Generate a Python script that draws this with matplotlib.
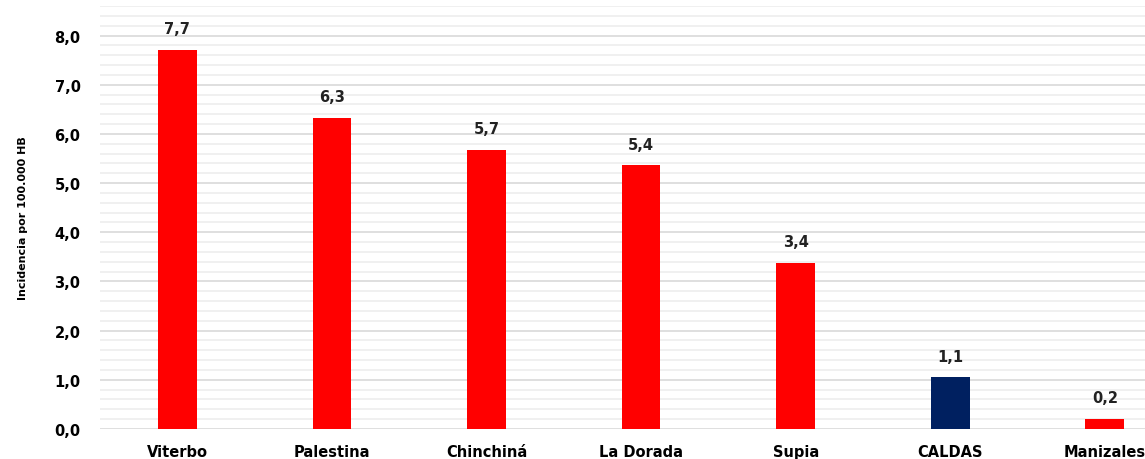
import matplotlib
matplotlib.use('agg')
import matplotlib.pyplot as plt
from matplotlib.ticker import MultipleLocator, FuncFormatter

# data
municipios = ['Viterbo', 'Palestina', 'Chinchiná', 'La Dorada', 'Supia', 'CALDAS', 'Manizales']
incidencia = [7.70, 6.33, 5.68, 5.36, 3.38, 1.05, 0.20]
etiquetas = ['7,7', '6,3', '5,7', '5,4', '3,4', '1,1', '0,2']
colores = ['#ff0000', '#ff0000', '#ff0000', '#ff0000', '#ff0000', '#002060', '#ff0000']

plt.rcParams['font.family'] = ['DejaVu Sans']

fig = plt.figure(figsize=(11.45, 4.6), dpi=100)
ax = fig.add_axes([100 / 1145, 30 / 460, 1 - 100 / 1145, (430 - 7) / 460])

x = list(range(len(municipios)))
ax.bar(x, incidencia, width=0.25, color=colores, zorder=3)
for xi, v, lab in zip(x, incidencia, etiquetas):
    ax.text(xi, v + 0.28, lab, ha='center', va='bottom', fontsize=10.5, fontweight='bold', color='#222222')

ax.set_xlim(-0.5, 6.26)
ax.set_ylim(0, 8.6)
ax.yaxis.set_major_locator(MultipleLocator(1))
ax.yaxis.set_minor_locator(MultipleLocator(0.2))
ax.yaxis.set_major_formatter(FuncFormatter(lambda v, p: f'{v:.1f}'.replace('.', ',')))
ax.grid(which='major', axis='y', color='#d9d9d9', linewidth=1.2, zorder=0)
ax.grid(which='minor', axis='y', color='#eeeeee', linewidth=1.2, zorder=0)
ax.set_xticks(x)
ax.set_xticklabels(municipios, fontsize=10.5, fontweight='bold')
ax.tick_params(axis='both', which='both', length=0)
ax.tick_params(axis='x', pad=11)
ax.tick_params(axis='y', pad=14)
for lab in ax.get_yticklabels():
    lab.set_fontsize(10.5)
    lab.set_fontweight('bold')
for s in ax.spines.values():
    s.set_visible(False)
ax.set_ylabel('Incidencia por 100.000 HB', fontsize=8, fontweight='bold', labelpad=19)

fig.savefig('out.png', dpi=100)
